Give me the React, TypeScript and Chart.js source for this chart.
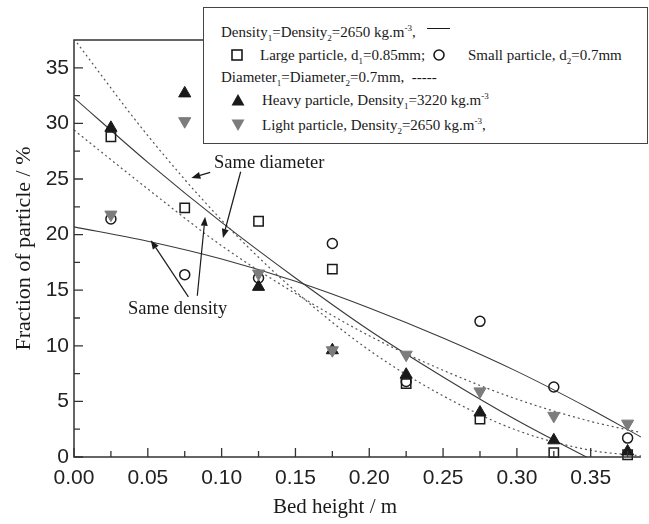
import React, { useEffect, useRef } from 'react';
import { Chart, registerables } from 'chart.js';

Chart.register(...registerables);

// Measured points: fraction of each particle kind (%) at each bed height (m)
const bedHeights = [0.025, 0.075, 0.125, 0.175, 0.225, 0.275, 0.325, 0.375];
const largeParticle = [28.8, 22.4, 21.2, 16.9, 6.6, 3.4, 0.4, 0.2];
const smallParticle = [21.4, 16.4, 16.1, 19.2, 6.8, 12.2, 6.3, 1.7];
const heavyParticle = [29.6, 32.7, 15.3, 9.6, 7.4, 4.0, 1.5, 0.5];
const lightParticle = [21.8, 30.2, 16.5, 9.6, 9.2, 5.9, 3.7, 3.0];

// Fitted trend curves
const fitHeights = [0, 0.05, 0.1, 0.15, 0.2, 0.25, 0.3, 0.35, 0.384];
const largeFit = [32.3, 26.5, 21.1, 16.1, 11.4, 7.2, 3.3, -0.2];
const smallFit = [20.7, 19.4, 17.8, 15.8, 13.4, 10.7, 7.7, 4.3, 1.8];
const heavyFit = [37.6, 28.9, 21.3, 14.9, 9.6, 5.5, 2.4, 0.6, 0.1];
const lightFit = [29.4, 24.1, 19.0, 14.7, 10.9, 7.8, 5.2, 3.2, 2.2];

// Axis ticks
const xMajorTicks = [0, 0.05, 0.1, 0.15, 0.2, 0.25, 0.3, 0.35];
const xMinorTicks = [0.025, 0.075, 0.125, 0.175, 0.225, 0.275, 0.325, 0.375];
const yMajorTicks = [0, 5, 10, 15, 20, 25, 30, 35];
const yMinorTicks = [2.5, 7.5, 12.5, 17.5, 22.5, 27.5, 32.5];

// Annotation arrows (tail -> head), in data units
const arrows = [
  { from: [0.0922, 25.6], to: [0.0795, 25.1] },
  { from: [0.1129, 25.65], to: [0.1009, 19.7] },
  { from: [0.0775, 14.4], to: [0.052, 19.5] },
  { from: [0.0835, 14.5], to: [0.0888, 21.6] },
];

const INK = '#1a1a1a';
const GREY = '#7c7c7c';
const SERIF = "'Liberation Serif', 'Times New Roman', serif";
const SANS = "'Liberation Sans', Arial, sans-serif";

const toPoints = (xs: number[], ys: number[]) => ys.map((y, i) => ({ x: xs[i], y }));

const axisDecor = {
  id: 'axisDecor',
  afterDatasetsDraw(chart: any) {
    const { ctx, chartArea: a, scales } = chart;
    const x = scales.x;
    const y = scales.y;
    ctx.save();
    ctx.strokeStyle = '#333';
    ctx.lineWidth = 1.5;
    ctx.beginPath();
    ctx.moveTo(a.right, a.top);
    ctx.lineTo(a.left, a.top);
    ctx.lineTo(a.left, a.bottom);
    ctx.lineTo(a.right, a.bottom);
    ctx.stroke();

    ctx.lineWidth = 1.3;
    ctx.beginPath();
    xMajorTicks.forEach((v) => {
      const px = x.getPixelForValue(v);
      ctx.moveTo(px, a.bottom);
      ctx.lineTo(px, a.bottom - 9);
    });
    xMinorTicks.forEach((v) => {
      const px = x.getPixelForValue(v);
      ctx.moveTo(px, a.bottom);
      ctx.lineTo(px, a.bottom - 6);
    });
    yMajorTicks.forEach((v) => {
      const py = y.getPixelForValue(v);
      ctx.moveTo(a.left, py);
      ctx.lineTo(a.left + 9, py);
    });
    yMinorTicks.forEach((v) => {
      const py = y.getPixelForValue(v);
      ctx.moveTo(a.left, py);
      ctx.lineTo(a.left + 6, py);
    });
    ctx.stroke();

    // annotation arrows
    ctx.strokeStyle = INK;
    ctx.fillStyle = INK;
    ctx.lineWidth = 1.2;
    arrows.forEach(({ from, to }) => {
      const x1 = x.getPixelForValue(from[0]);
      const y1 = y.getPixelForValue(from[1]);
      const x2 = x.getPixelForValue(to[0]);
      const y2 = y.getPixelForValue(to[1]);
      const ang = Math.atan2(y2 - y1, x2 - x1);
      const len = 9;
      const half = 3.5;
      const bx = x2 - len * Math.cos(ang);
      const by = y2 - len * Math.sin(ang);
      ctx.beginPath();
      ctx.moveTo(x1, y1);
      ctx.lineTo(bx, by);
      ctx.stroke();
      ctx.beginPath();
      ctx.moveTo(x2, y2);
      ctx.lineTo(bx + half * Math.sin(ang), by - half * Math.cos(ang));
      ctx.lineTo(bx - half * Math.sin(ang), by + half * Math.cos(ang));
      ctx.closePath();
      ctx.fill();
    });
    ctx.restore();
  },
};

const Sub = ({ children }: { children: React.ReactNode }) => (
  <span style={{ fontSize: 9, position: 'relative', top: 4, lineHeight: 0 }}>{children}</span>
);
const Sup = ({ children }: { children: React.ReactNode }) => (
  <span style={{ fontSize: 9, position: 'relative', top: -6, lineHeight: 0 }}>{children}</span>
);

const Row = ({ left, center, children }: { left: number; center: number; children: React.ReactNode }) => (
  <div
    style={{
      position: 'absolute',
      left,
      top: center - 9,
      height: 18,
      lineHeight: '18px',
      whiteSpace: 'nowrap',
      fontFamily: SERIF,
      fontSize: 15,
      color: INK,
    }}
  >
    {children}
  </div>
);

const Mark = ({ left, center, kind }: { left: number; center: number; kind: string }) => {
  let shape: React.ReactNode = null;
  if (kind === 'square') shape = <rect x={2} y={2} width={10} height={10} fill="none" stroke={INK} strokeWidth={1.6} />;
  if (kind === 'circle') shape = <circle cx={7} cy={7} r={5} fill="none" stroke={INK} strokeWidth={1.6} />;
  if (kind === 'up') shape = <polygon points="7,1 13.5,12.5 0.5,12.5" fill={INK} />;
  if (kind === 'down') shape = <polygon points="0.5,1.5 13.5,1.5 7,13" fill={GREY} />;
  return (
    <svg width={14} height={14} style={{ position: 'absolute', left: left - 7, top: center - 7 }}>
      {shape}
    </svg>
  );
};

export default function App() {
  const canvasRef = useRef<HTMLCanvasElement | null>(null);

  useEffect(() => {
    const canvas = canvasRef.current;
    if (!canvas) return;
    const fitLine = (data: number[], dashed: boolean) => ({
      data: toPoints(fitHeights, data),
      showLine: true,
      borderColor: dashed ? '#555' : '#3a3a3a',
      borderWidth: dashed ? 1.2 : 1.1,
      borderDash: dashed ? [2, 3] : [],
      pointRadius: 0,
      cubicInterpolationMode: 'monotone' as const,
      clip: 0,
      order: 10,
    });
    const chart = new Chart(canvas, {
      type: 'scatter',
      data: {
        datasets: [
          {
            label: 'Large particle',
            data: toPoints(bedHeights, largeParticle),
            pointStyle: 'rect',
            pointRadius: 6.6,
            borderWidth: 1.5,
            borderColor: INK,
            backgroundColor: 'rgba(0,0,0,0)',
            clip: false,
            order: 4,
          },
          {
            label: 'Small particle',
            data: toPoints(bedHeights, smallParticle),
            pointStyle: 'circle',
            pointRadius: 5,
            borderWidth: 1.5,
            borderColor: INK,
            backgroundColor: 'rgba(0,0,0,0)',
            clip: false,
            order: 3,
          },
          {
            label: 'Heavy particle',
            data: toPoints(bedHeights, heavyParticle),
            pointStyle: 'triangle',
            pointRadius: 7,
            borderWidth: 1,
            borderColor: INK,
            backgroundColor: INK,
            clip: false,
            order: 2,
          },
          {
            label: 'Light particle',
            data: toPoints(bedHeights, lightParticle),
            pointStyle: 'triangle',
            rotation: 180,
            pointRadius: 7,
            borderWidth: 1,
            borderColor: GREY,
            backgroundColor: GREY,
            clip: false,
            order: 1,
          },
          { label: 'Large fit', ...fitLine(largeFit, false) },
          { label: 'Small fit', ...fitLine(smallFit, false) },
          { label: 'Heavy fit', ...fitLine(heavyFit, true) },
          { label: 'Light fit', ...fitLine(lightFit, true) },
        ] as any,
      },
      options: {
        animation: false,
        responsive: false,
        devicePixelRatio: 1,
        layout: { padding: { top: 40, left: 0, right: 0, bottom: 0 } },
        plugins: {
          legend: { display: false },
          tooltip: { enabled: false },
        },
        scales: {
          x: {
            type: 'linear',
            min: 0,
            max: 0.384,
            afterBuildTicks: (s: any) => {
              s.ticks = xMajorTicks.map((value) => ({ value }));
            },
            afterFit: (s: any) => {
              s.height = 67;
            },
            grid: { display: false, drawTicks: false },
            border: { display: false },
            ticks: {
              padding: 9,
              color: '#222',
              font: { family: SANS, size: 21 },
              maxRotation: 0,
              autoSkip: false,
              callback: (v: any) => Number(v).toFixed(2),
            },
          },
          y: {
            type: 'linear',
            min: 0,
            max: 37.5,
            afterBuildTicks: (s: any) => {
              s.ticks = yMajorTicks.map((value) => ({ value }));
            },
            afterFit: (s: any) => {
              s.width = 74;
            },
            grid: { display: false, drawTicks: false },
            border: { display: false },
            ticks: {
              padding: 5,
              color: '#222',
              font: { family: SANS, size: 21 },
              autoSkip: false,
              callback: (v: any) => String(v),
            },
            title: {
              display: true,
              text: 'Fraction of particle / %',
              color: INK,
              font: { family: SERIF, size: 22 },
              padding: { top: 11, bottom: 0 },
            },
          },
        },
      },
      plugins: [axisDecor],
    });
    return () => chart.destroy();
  }, []);

  return (
    <div style={{ position: 'absolute', left: 0, top: 0, width: 649, height: 524, overflow: 'hidden', background: '#fff' }}>
      <canvas ref={canvasRef} width={649} height={524} style={{ display: 'block' }} />

      <div
        style={{
          position: 'absolute',
          left: 0,
          top: 494,
          width: 670,
          textAlign: 'center',
          fontFamily: SERIF,
          fontSize: 21,
          lineHeight: '24px',
          color: INK,
        }}
      >
        Bed height / m
      </div>

      <div style={{ position: 'absolute', left: 214, top: 151, fontFamily: SERIF, fontSize: 18.5, lineHeight: '22px', color: INK, whiteSpace: 'nowrap' }}>
        Same diameter
      </div>
      <div style={{ position: 'absolute', left: 128, top: 297, fontFamily: SERIF, fontSize: 18.5, lineHeight: '22px', color: INK, whiteSpace: 'nowrap' }}>
        Same density
      </div>

      <div
        style={{
          position: 'absolute',
          left: 203,
          top: 7,
          width: 443,
          height: 135,
          border: '1.5px solid #444',
          background: '#fff',
        }}
      />
      <Row left={221} center={32}>
        Density<Sub>1</Sub>=Density<Sub>2</Sub>=2650 kg.m<Sup>-3</Sup>,{' '}
        <span style={{ display: 'inline-block', width: 23, height: 0, borderTop: `1.3px solid ${INK}`, verticalAlign: 'middle', marginLeft: 8, position: 'relative', top: -5 }} />
      </Row>
      <Mark left={237} center={55} kind="square" />
      <Row left={260} center={55}>
        Large particle, d<Sub>1</Sub>=0.85mm;
      </Row>
      <Mark left={439} center={55} kind="circle" />
      <Row left={468} center={55}>
        Small particle, d<Sub>2</Sub>=0.7mm
      </Row>
      <Row left={221} center={77}>
        Diameter<Sub>1</Sub>=Diameter<Sub>2</Sub>=0.7mm,&nbsp; -----
      </Row>
      <Mark left={238} center={100} kind="up" />
      <Row left={262} center={100}>
        Heavy particle, Density<Sub>1</Sub>=3220 kg.m<Sup>-3</Sup>
      </Row>
      <Mark left={238} center={125} kind="down" />
      <Row left={262} center={125}>
        Light particle, Density<Sub>2</Sub>=2650 kg.m<Sup>-3</Sup>,
      </Row>
    </div>
  );
}
